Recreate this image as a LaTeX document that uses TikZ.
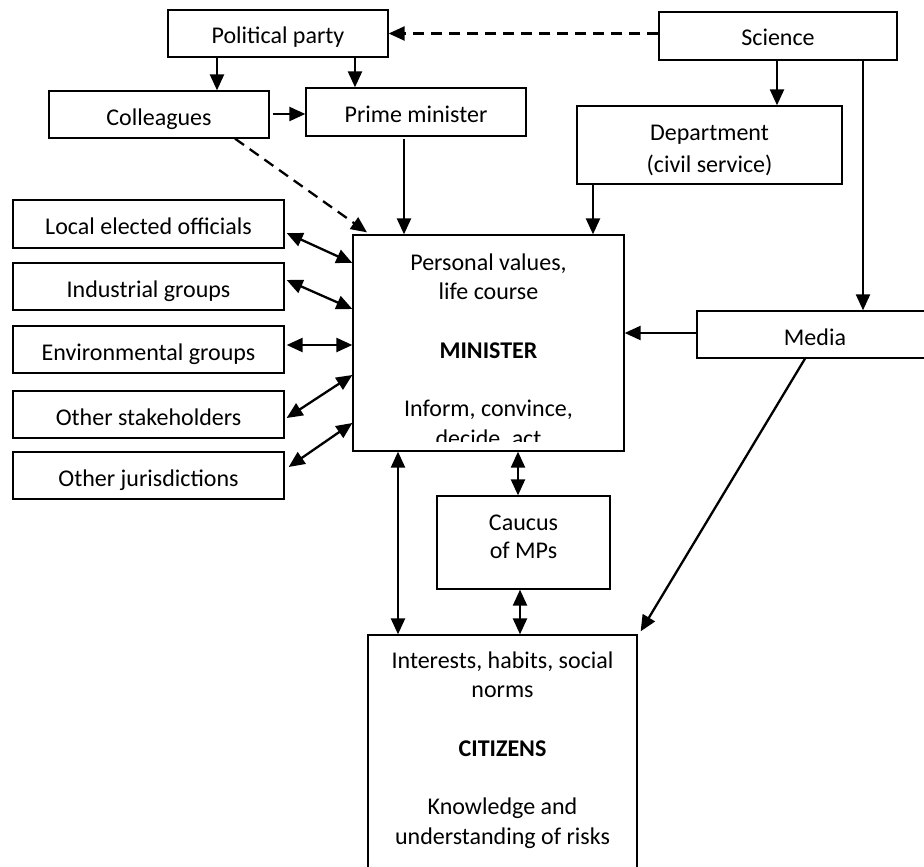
\documentclass[tikz,border=0pt]{standalone}
\usepackage{fontspec}
\setmainfont{Carlito}
\usetikzlibrary{arrows.meta}
\begin{document}
\begin{tikzpicture}[x=1pt,y=-1pt,
  every node/.style={font=\fontsize{24}{29.3}\selectfont},
  box/.style={draw, line width=1.3pt, inner sep=0pt},
  one/.style={box, text height=34pt, text depth=#1},
  txt/.style={inner sep=0pt, align=center},
  tip/.tip={Triangle[length=16pt,width=14pt]},
  arr/.style={line width=2.3pt, -tip},
  darr/.style={line width=2.3pt, tip-tip},
  dsh/.style={arr, dash pattern=on 11pt off 7pt}]
\clip (0,0) rectangle (924,867);

% boxes
\node[one=13pt, minimum width=220pt] (pp) at (278,33.5) {Political party};
\node[one=14pt, minimum width=238pt] (science) at (778,36) {Science};
\node[one=13pt, minimum width=220pt] (colleagues) at (159,114.5) {Colleagues};
\node[one=14pt, minimum width=220pt] (pm) at (416,112) {Prime minister};
\node[box, minimum width=265pt, minimum height=78pt] (dept) at (709.5,145) {};
\node[txt] (depttext) at (709.5,150.5) {Department\\[2pt](civil service)};

\node[one=14pt, minimum width=271pt] (local) at (148.5,224) {Local elected officials};
\node[one=13pt, minimum width=271pt] (indus) at (148.5,286.5) {Industrial groups};
\node[one=13pt, minimum width=271pt] (env) at (148.5,349.5) {Environmental groups};
\node[one=13pt, minimum width=271pt] (stake) at (148.5,414.5) {Other stakeholders};
\node[one=13pt, minimum width=271pt] (juris) at (148.5,475.5) {Other jurisdictions};

\node[box, minimum width=271pt, minimum height=216pt] (minister) at (488.5,343) {};
\begin{scope}
\clip (353,235) rectangle (624,441.5);
\node[txt] (ministertext) at (488.5,351.5) {Personal values,\\life course\\ \\\textbf{MINISTER}\\ \\Inform, convince,\\decide, act};
\end{scope}

\node[one=13pt, minimum width=236pt] (media) at (815,334.5) {Media};

\node[box, minimum width=173pt, minimum height=93pt] (caucus) at (523.5,542.5) {};
\node[txt] (caucustext) at (523.5,537) {Caucus\\[-1.3pt]of MPs};

\node[box, minimum width=269pt, minimum height=285pt] (citizens) at (502.5,777.5) {};
\node[txt] (citizenstext) at (502.5,750) {Interests, habits, social\\norms\\ \\\textbf{CITIZENS}\\ \\Knowledge and\\understanding of risks};

% connectors
\draw[dsh] (science.west |- pp.east) -- (pp.east);
\draw[arr] ([xshift=-61pt]pp.south) -- ([xshift=58pt]colleagues.north);
\draw[arr] ([xshift=77pt]pp.south) -- ([xshift=-61pt]pm.north);
\draw[arr, shorten <=3pt] ([yshift=0.5pt]colleagues.east) -- ([yshift=0.5pt]colleagues.east -| pm.west);
\draw[dsh] ([xshift=76pt]colleagues.south) -- ([xshift=-121.5pt,yshift=2pt]minister.north);
\draw[arr, shorten <=2pt] ([xshift=-12pt]pm.south) -- ([xshift=-84.5pt]minister.north);
\draw[arr] ([xshift=-1pt]science.south) -- ([xshift=67.5pt]dept.north);
\draw[arr] ([xshift=-116.5pt]dept.south) -- ([xshift=104.5pt]minister.north);
\draw[arr] ([xshift=85pt]science.south) -- ([xshift=48pt]media.north);
\draw[arr] ([yshift=1.5pt]media.west) -- ([yshift=10pt]minister.east);
\draw[arr] ([xshift=-10pt]media.south) -- ([xshift=3pt,yshift=3pt]citizens.north east);

\draw[darr] ([xshift=2pt,yshift=-9pt]local.east) -- ([yshift=80pt]minister.west);
\draw[darr] ([xshift=2pt,yshift=6.5pt]indus.east) -- ([yshift=34pt]minister.west);
\draw[darr] ([xshift=2pt,yshift=4.5pt]env.east) -- ([yshift=-2pt]minister.west);
\draw[darr] ([xshift=2pt,yshift=-3.5pt]stake.east) -- ([yshift=-32pt]minister.west);
\draw[darr] ([xshift=4pt,yshift=8.5pt]juris.east) -- ([yshift=-80pt]minister.west);

\draw[darr] ([xshift=-90.5pt]minister.south) -- ([xshift=-104.5pt]citizens.north);
\draw[darr] ([xshift=29.5pt]minister.south) -- ([xshift=-5.5pt]caucus.north);
\draw[darr] ([xshift=-3.5pt]caucus.south) -- ([xshift=17.5pt]citizens.north);
\end{tikzpicture}
\end{document}
